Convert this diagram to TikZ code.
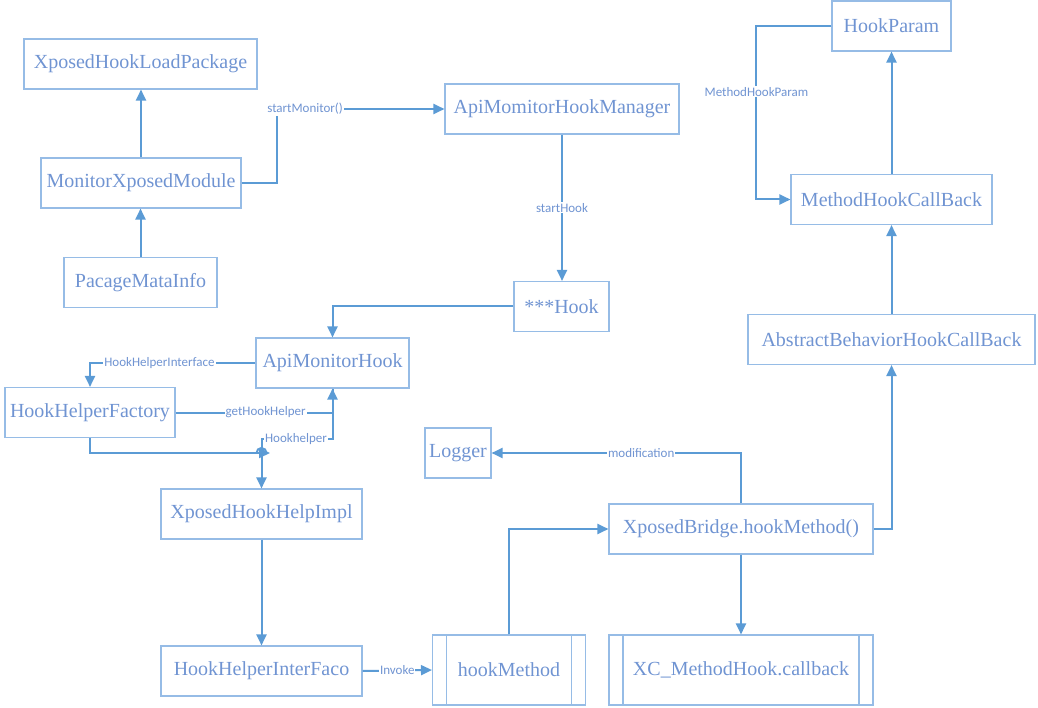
\documentclass[tikz,border=0pt]{standalone}
\usepackage{fontspec}
\setmainfont{Liberation Serif}
\newfontfamily\lblfont{Carlito}
\usetikzlibrary{arrows.meta}
\definecolor{boxline}{RGB}{150,188,230}
\definecolor{boxtext}{RGB}{112,148,210}
\definecolor{conline}{RGB}{91,155,213}
\tikzset{
  box/.style={draw=boxline,line width=1.1pt,text=boxtext,minimum height=50pt,inner sep=0pt,font=\fontsize{20}{24}\selectfont},
  proc/.style={box,minimum height=70pt,path picture={
    \draw[boxline,line width=1.1pt] ([xshift=14pt]path picture bounding box.north west)--([xshift=14pt]path picture bounding box.south west);
    \draw[boxline,line width=1.1pt] ([xshift=-14pt]path picture bounding box.north east)--([xshift=-14pt]path picture bounding box.south east);}},
  conn/.style={draw=conline,line width=2pt,-{Triangle[length=11pt,width=10pt]}},
  lbl/.style={fill=white,text=boxtext,inner sep=1pt,font=\lblfont\fontsize{13}{15}\selectfont}
}
\begin{document}
\begin{tikzpicture}[x=1pt,y=-1pt]
\useasboundingbox (0,0) rectangle (1038,708);
\node[box,minimum width=233pt] (xhlp) at (140.5,64) {XposedHookLoadPackage};
\node[box,minimum width=200pt] (mxm) at (141,183) {MonitorXposedModule};
\node[box,minimum width=153pt] (pmi) at (140.5,282.5) {PacageMataInfo};
\node[box,minimum width=234pt] (amhm) at (562,109) {ApiMomitorHookManager};
\node[box,minimum width=95pt] (hook) at (561.5,306.5) {***Hook};
\node[box,minimum width=153pt] (amh) at (332.5,363) {ApiMonitorHook};
\node[box,minimum width=170pt] (hhf) at (90,412.5) {HookHelperFactory};
\node[box,minimum width=201pt] (xhhi) at (261.5,514) {XposedHookHelpImpl};
\node[box,minimum width=201pt] (hhif) at (261.5,671) {HookHelperInterFaco};
\node[proc,minimum width=153pt] (hm) at (509,670) {hookMethod};
\node[proc,minimum width=264pt] (xcmh) at (741,670) {XC\_MethodHook.callback};
\node[box,minimum width=66pt] (log) at (458,453) {Logger};
\node[box,minimum width=264pt] (xb) at (741,529) {XposedBridge.hookMethod()};
\node[box,minimum width=287pt] (abhc) at (891.5,339.5) {AbstractBehaviorHookCallBack};
\node[box,minimum width=201pt] (mhcb) at (891.5,199.5) {MethodHookCallBack};
\node[box,minimum width=119pt] (hp) at (891.5,26) {HookParam};
\coordinate (jn) at (270,453);
\draw[conn] (mxm.north) -- (mxm.north |- xhlp.south);
\draw[conn] (pmi.north) -- (pmi.north |- mxm.south);
\draw[conn] (mxm.east) -- ++(35,0) |- node[lbl,pos=0.585]{startMonitor()} (amhm.west);
\draw[conn] (amhm.south) -- node[lbl]{startHook} (amhm.south |- hook.north);
\draw[conn] (hook.west) -| (amh.north);
\draw[conn] (amh.west) -| node[lbl,pos=0.29]{HookHelperInterface} (hhf.north);
\draw[conn] (hhf.east) -| node[lbl,pos=0.287]{getHookHelper} (amh.south);
\draw[conn] (amh.south) -- ++(0,50) -| node[lbl,pos=0.257]{Hookhelper} (xhhi.north);
\draw[conn] (hhf.south) |- (jn);
\draw[conline,line width=2pt] (256.5,453) arc[start angle=180,end angle=360,radius=5];
\draw[conn] (xhhi.south) -- (hhif.north);
\draw[conn] (hhif.east) -- node[lbl]{Invoke} (hm.west);
\draw[conn] (hm.north) |- (xb.west);
\draw[conn] (xb.north) |- node[lbl,pos=0.7]{modification} (log.east);
\draw[conn] (xb.south) -- (xcmh.north);
\draw[conn] (xb.east) -| (abhc.south);
\draw[conn] (abhc.north) -- (mhcb.south);
\draw[conn] (mhcb.north) -- (hp.south);
\draw[conn] (hp.west) -- ++(-75,0) |- node[lbl,pos=0.19]{MethodHookParam} (mhcb.west);
\end{tikzpicture}
\end{document}
